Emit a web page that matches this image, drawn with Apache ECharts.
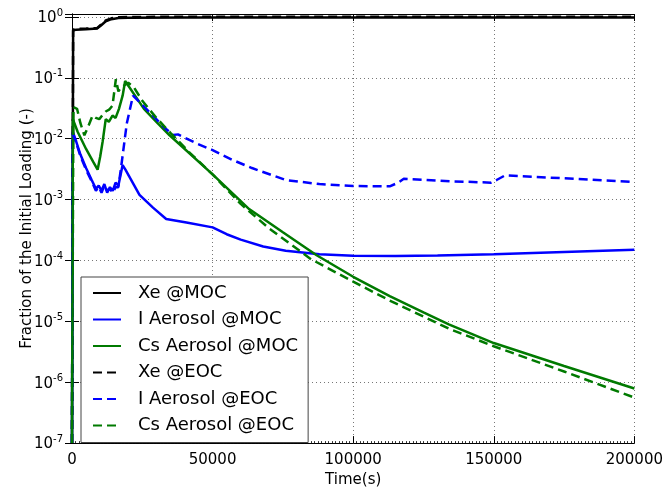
<!DOCTYPE html>
<html>
<head>
<meta charset="utf-8">
<script src="https://cdn.jsdelivr.net/npm/echarts@6/dist/echarts.min.js"></script>
<style>
  html, body { margin: 0; padding: 0; background: #fff; }
  #main { width: 666px; height: 493px; }
</style>
</head>
<body>
<div id="main"></div>
<script>
// tick labels
var xTicks = [0, 50000, 100000, 150000, 200000];

// Xe, same time grid for MOC and EOC
var xeT = [0, 400, 1500, 5000, 9000, 10500, 12000, 14000, 16500, 20000, 40000, 100000, 200000];
var xeMoc = [1e-7, 0.6, 0.62, 0.63, 0.65, 0.74, 0.85, 0.92, 0.96, 0.975, 0.98, 0.98, 0.98];
var xeEoc = [1e-7, 0.62, 0.64, 0.645, 0.66, 0.76, 0.88, 0.95, 0.99, 1.0, 1.01, 1.01, 1.01];

// I aerosol @MOC
var iMocT = [0, 300, 1500, 3000, 5000, 7000, 8500, 9500, 10500, 11500, 12500, 13500, 14500, 15500, 16500,
  18000, 19000, 24000, 28800, 33500, 40700, 50000, 55000, 60000, 68000, 76000, 88000, 100000, 115000,
  130000, 150000, 175000, 200000];
var iMoc = [1e-7, 0.013, 0.009, 0.0055, 0.0033, 0.0021, 0.0015, 0.0017, 0.0014, 0.0018, 0.0013, 0.0016, 0.0014, 0.0019, 0.0017,
  0.0037, 0.0031, 0.0012, 0.00074, 0.00048, 0.00042, 0.00035, 0.00027, 0.00022, 0.00017, 0.000145, 0.000127, 0.00012, 0.000118,
  0.000121, 0.000127, 0.000138, 0.00015];

// I aerosol @EOC
var iEocT = [0, 300, 1500, 3000, 5000, 7000, 8500, 9500, 10500, 11500, 12500, 13500, 14500, 15500, 16500,
  17500, 19500, 21700, 25000, 28800, 33000, 36000, 37700, 44000, 50000, 57000, 64000, 76000, 88000, 100000,
  113000, 116000, 118000, 135000, 149000, 151000, 154000, 170000, 200000];
var iEoc = [1e-7, 0.012, 0.0085, 0.0052, 0.0031, 0.002, 0.0014, 0.0016, 0.0013, 0.0017, 0.0014, 0.0015, 0.0013, 0.0016, 0.0016,
  0.0035, 0.018, 0.051, 0.036, 0.024, 0.015, 0.0115, 0.0118, 0.0085, 0.0065, 0.0045, 0.0033, 0.0021, 0.0018, 0.00167,
  0.00165, 0.0019, 0.0022, 0.002, 0.0019, 0.0021, 0.0025, 0.0023, 0.00195];

// Cs aerosol @MOC
var csMocT = [0, 300, 2000, 5000, 7500, 9100, 10000, 10900, 12000, 13100, 14400, 15500, 16700, 18000, 18900,
  19300, 25600, 30000, 34700, 50000, 63000, 75000, 87000, 100000, 113000, 125000, 134000, 150000, 175000, 200000];
var csMoc = [1e-7, 0.021, 0.013, 0.0068, 0.0042, 0.0031, 0.005, 0.009, 0.021, 0.019, 0.024, 0.022, 0.031, 0.051, 0.089,
  0.085, 0.031, 0.019, 0.0114, 0.0026, 0.0007, 0.00029, 0.000122, 5.4e-5, 2.6e-5, 1.4e-5, 8.9e-6, 4.4e-6, 1.85e-6, 7.9e-7];

// Cs aerosol @EOC
var csEocT = [0, 500, 1800, 3000, 4400, 5800, 7300, 8500, 9700, 11000, 12000, 13200, 14400, 15600, 16500,
  17500, 20000, 22000, 25000, 30000, 35000, 42000, 50000, 60000, 70000, 85000, 100000, 113000, 134000,
  150000, 175000, 200000];
var csEoc = [1e-7, 0.033, 0.031, 0.018, 0.0114, 0.016, 0.024, 0.022, 0.021, 0.025, 0.028, 0.03, 0.035, 0.095, 0.06,
  0.07, 0.083, 0.07, 0.042, 0.022, 0.0125, 0.0058, 0.0026, 0.00085, 0.00034, 0.000105, 4.5e-5, 2.2e-5, 7.6e-6,
  3.9e-6, 1.5e-6, 5.6e-7];

function pairs(t, v) {
  var out = [];
  for (var i = 0; i < t.length; i++) out.push([t[i], v[i]]);
  return out;
}

var FONT = 'DejaVu Sans';
var dash = [9, 5];

function line(name, t, v, color, dashed) {
  return {
    name: name,
    type: 'line',
    data: pairs(t, v),
    showSymbol: false,
    symbol: 'none',
    lineStyle: { color: color, width: 2.5, type: dashed ? dash : 'solid' },
    itemStyle: { color: color }
  };
}

var myChart = echarts.init(document.getElementById('main'));
var option = {
  animation: false,
  backgroundColor: '#fff',
  textStyle: { fontFamily: FONT },
  grid: { left: 72, right: 30, top: 14, bottom: 45 },
  legend: {
    orient: 'vertical',
    left: 81,
    top: 277,
    padding: [7, 10, 8, 11],
    itemGap: 8.5,
    itemWidth: 28,
    itemHeight: 18,
    backgroundColor: '#fff',
    borderColor: '#444',
    borderWidth: 1,
    borderRadius: 0,
    // line series always add a marker to the legend icon; hide it
    itemStyle: { opacity: 0, borderWidth: 0 },
    textStyle: { fontSize: 18, color: '#000', fontFamily: FONT, padding: [0, 0, 0, 12] },
    data: ['Xe @MOC', 'I Aerosol @MOC', 'Cs Aerosol @MOC', 'Xe @EOC', 'I Aerosol @EOC', 'Cs Aerosol @EOC']
  },
  xAxis: [{
    type: 'value',
    min: 0,
    max: 200000,
    interval: 50000,
    position: 'bottom',
    name: 'Time(s)',
    nameLocation: 'middle',
    nameGap: 28,
    nameTextStyle: { fontSize: 15, color: '#000', fontFamily: FONT },
    axisLine: { show: true, lineStyle: { color: '#000', width: 1 } },
    axisTick: { show: true, inside: true, length: 7, lineStyle: { color: '#000' } },
    minorTick: { show: true, splitNumber: 40, length: 2, lineStyle: { color: '#333' } },
    axisLabel: {
      fontSize: 15, color: '#000', fontFamily: FONT, margin: 10,
      formatter: function (v) { return xTicks.indexOf(v) >= 0 ? String(v) : ''; }
    },
    splitLine: { show: true, lineStyle: { color: '#777', type: [1, 3], width: 1 } }
  }, {
    type: 'value',
    min: 0,
    max: 200000,
    interval: 50000,
    position: 'top',
    axisLine: { show: true, lineStyle: { color: '#000', width: 1 } },
    axisTick: { show: true, inside: true, length: 7, lineStyle: { color: '#000' } },
    axisLabel: { show: false },
    splitLine: { show: false }
  }],
  yAxis: [{
    type: 'log',
    logBase: 10,
    min: 1e-7,
    max: 1.12,
    interval: 1,
    position: 'left',
    name: 'Fraction of the Initial Loading (-)',
    nameLocation: 'middle',
    nameGap: 37,
    nameMoveOverlap: false,
    nameTextStyle: { fontSize: 15, color: '#000', fontFamily: FONT },
    axisLine: { show: true, lineStyle: { color: '#000', width: 1 } },
    axisTick: { show: true, inside: true, length: 7, lineStyle: { color: '#000' } },
    axisLabel: {
      color: '#000',
      margin: 9,
      formatter: function (v) {
        var e = Math.log10(v);
        if (Math.abs(e - Math.round(e)) > 0.01) return '';
        return '{b|10}{s|' + Math.round(e) + '}';
      },
      rich: {
        b: { fontSize: 15, fontFamily: FONT, color: '#000', verticalAlign: 'bottom' },
        s: { fontSize: 10, fontFamily: FONT, color: '#000', verticalAlign: 'bottom', padding: [0, 0, 8, 0] }
      }
    },
    splitLine: { show: true, lineStyle: { color: '#777', type: [1, 3], width: 1 } }
  }, {
    type: 'log',
    logBase: 10,
    min: 1e-7,
    max: 1.12,
    interval: 1,
    position: 'right',
    axisLine: { show: true, lineStyle: { color: '#000', width: 1 } },
    axisTick: { show: true, inside: true, length: 7, lineStyle: { color: '#000' } },
    axisLabel: { show: false },
    splitLine: { show: false }
  }],
  series: [
    line('Xe @MOC', xeT, xeMoc, '#000000', false),
    line('I Aerosol @MOC', iMocT, iMoc, '#0000ff', false),
    line('Cs Aerosol @MOC', csMocT, csMoc, '#007a00', false),
    line('Xe @EOC', xeT, xeEoc, '#000000', true),
    line('I Aerosol @EOC', iEocT, iEoc, '#0000ff', true),
    line('Cs Aerosol @EOC', csEocT, csEoc, '#007a00', true)
  ]
};
myChart.setOption(option);
window.onresize = function () { myChart.resize(); };
</script>
</body>
</html>
